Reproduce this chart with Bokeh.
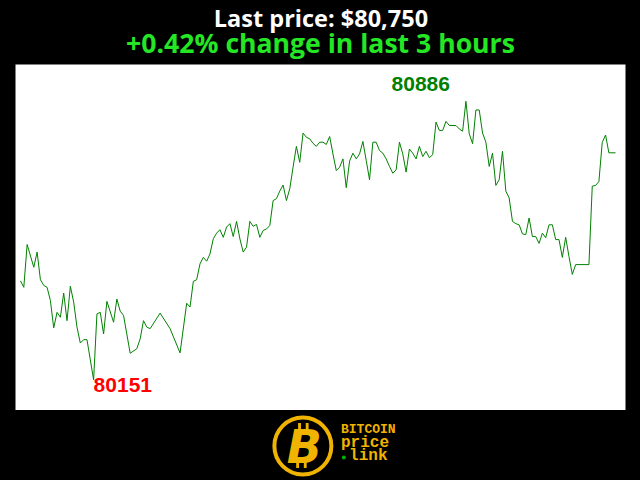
from bokeh.plotting import figure
from bokeh.models import Range1d
from bokeh.layouts import column
from bokeh.embed import file_html
from bokeh.resources import INLINE
from bokeh.core.properties import value

# ---- data (minute offset within the last 3 hours, price in USD) ----
minutes = [0, 1, 2, 4, 5, 6, 7, 8, 9, 10, 11, 12, 13, 14, 15, 16, 17, 18, 19, 20,
           22, 23, 24, 25, 26, 28, 29, 30, 31, 33, 35, 36, 37, 38, 39, 42, 45, 48, 50, 51,
           52, 53, 54, 55, 56, 57, 58, 59, 60, 61, 62, 63, 64, 65, 66, 67, 68, 69, 70, 71,
           72, 73, 74, 75, 76, 77, 78, 79, 80, 81, 82, 83, 84, 85, 86, 87, 88, 89, 90, 91,
           92, 93, 94, 95, 96, 97, 98, 99, 100, 101, 102, 103, 104, 105, 106, 107, 108, 109, 110, 111,
           112, 113, 114, 115, 116, 117, 118, 119, 120, 121, 122, 123, 124, 125, 126, 127, 128, 129, 131, 132,
           133, 134, 135, 136, 137, 138, 139, 140, 141, 142, 143, 144, 145, 146, 147, 148, 149, 150, 151, 152,
           153, 154, 155, 156, 157, 158, 159, 160, 161, 162, 163, 164, 165, 166, 167, 171, 172, 173, 174, 175,
           176, 177, 179]
prices = [80412, 80395, 80508, 80448, 80488, 80415, 80400, 80395, 80360, 80288, 80329, 80316, 80380, 80307, 80398, 80356, 80290, 80248, 80257, 80257,
          80151, 80325, 80329, 80272, 80358, 80303, 80364, 80332, 80321, 80221, 80233, 80259, 80307, 80290, 80286, 80327, 80286, 80222, 80353, 80343,
          80411, 80415, 80457, 80474, 80464, 80483, 80523, 80538, 80547, 80527, 80554, 80563, 80529, 80569, 80523, 80488, 80501, 80569, 80556, 80561,
          80527, 80545, 80549, 80558, 80624, 80629, 80649, 80665, 80624, 80655, 80712, 80767, 80725, 80802, 80791, 80787, 80775, 80767, 80778, 80778,
          80772, 80793, 80747, 80703, 80712, 80734, 80658, 80728, 80749, 80734, 80747, 80780, 80730, 80679, 80778, 80778, 80756, 80749, 80734, 80714,
          80696, 80705, 80778, 80747, 80699, 80760, 80749, 80734, 80767, 80740, 80754, 80737, 80745, 80831, 80809, 80809, 80833, 80822, 80822, 80813,
          80807, 80886, 80800, 80774, 80863, 80863, 80802, 80778, 80714, 80749, 80664, 80679, 80754, 80649, 80631, 80569, 80563, 80560, 80536, 80534,
          80578, 80529, 80529, 80511, 80538, 80526, 80560, 80560, 80521, 80521, 80474, 80527, 80476, 80429, 80455, 80455, 80662, 80664, 80674, 80777,
          80797, 80750, 80750]

last_price = prices[-1]
pct_change = (prices[-1] - prices[0]) / prices[0] * 100
title_1 = f"Last price: ${last_price:,}"
title_2 = f"{pct_change:+.2f}% change in last 3 hours"
logo_words = ["BITCOIN", "price", "link"]

GOLD = "#f0b400"

# ---- title strip ----
top = figure(width=640, height=64, x_range=Range1d(0, 640), y_range=Range1d(64, 0),
             toolbar_location=None, output_backend="svg",
             x_axis_location=None, y_axis_location=None, min_border=0,
             border_fill_color="black", background_fill_color="black", outline_line_color=None)
top.grid.visible = False
top.text(x=[320.5], y=[17], text=[title_1], text_font=value("Open Sans"), text_font_style="bold",
         text_font_size="23.5px", text_color="white", text_align="center", text_baseline="alphabetic")
top.text(x=[320], y=[42], text=[title_2], text_font=value("Open Sans"), text_font_style="bold",
         text_font_size="26.6px", text_color="#24e624", text_align="center", text_baseline="alphabetic")

# ---- main chart ----
p = figure(width=640, height=346, x_range=Range1d(-1.5, 182), y_range=Range1d(80070, 80983),
           toolbar_location=None, output_backend="svg",
           x_axis_location=None, y_axis_location=None,
           min_border_left=15, min_border_right=15, min_border_top=0, min_border_bottom=0,
           border_fill_color="black", background_fill_color="white", outline_line_color=None)
p.grid.visible = False
p.line(minutes, prices, line_color="green", line_width=1)

i_min = prices.index(min(prices))
i_max = prices.index(max(prices))
p.text(x=[minutes[i_min]], y=[prices[i_min]], text=[str(prices[i_min])],
       text_font=value("Liberation Sans"), text_font_style="bold", text_font_size="21px",
       text_color="#ff0000", text_align="left", text_baseline="alphabetic", y_offset=5)
p.text(x=[minutes[i_max]], y=[prices[i_max]], text=[str(prices[i_max])],
       text_font=value("Liberation Sans"), text_font_style="bold", text_font_size="21px",
       text_color="#008000", text_align="right", text_baseline="alphabetic", x_offset=-16, y_offset=-17.5)

# ---- logo strip ----
bot = figure(width=640, height=70, x_range=Range1d(0, 640), y_range=Range1d(480, 410),
             toolbar_location=None, output_backend="svg",
             x_axis_location=None, y_axis_location=None, min_border=0,
             border_fill_color="black", background_fill_color="black", outline_line_color=None)
bot.grid.visible = False
bot.scatter(x=[301.5], y=[445.5], size=57, marker="circle", fill_color="black",
            line_color=GOLD, line_width=4)
bot.rect(x=[298, 306, 296, 304], y=[426, 426, 464, 464], width=3, height=7,
         fill_color=GOLD, line_color=None)
bot.text(x=[303], y=[446], text=["B"], text_font=value("DejaVu Sans"), text_font_style="bold italic",
         text_font_size="46px", text_color=GOLD, text_align="center", text_baseline="middle")
bot.text(x=[341.5], y=[429], text=[logo_words[0]], text_font=value("Liberation Mono"),
         text_font_style="bold", text_font_size="13px", text_color=GOLD,
         text_align="left", text_baseline="alphabetic")
bot.text(x=[341.5], y=[442], text=[logo_words[1]], text_font=value("Liberation Mono"),
         text_font_style="bold", text_font_size="16px", text_color=GOLD,
         text_align="left", text_baseline="alphabetic")
bot.text(x=[350], y=[455.5], text=[logo_words[2]], text_font=value("Liberation Mono"),
         text_font_style="bold", text_font_size="16px", text_color=GOLD,
         text_align="left", text_baseline="alphabetic")
bot.scatter(x=[344.5], y=[457], size=4, marker="circle", fill_color="#00b000", line_color=None)

layout = column(top, p, bot, spacing=0)
html = file_html(layout, INLINE, title="Bitcoin price")
style = "<style>html, body { background-color: #000000; margin: 0; overflow: hidden; }</style>"
html = html.replace("</head>", style + "</head>", 1)
open("out.html", "w").write(html)
